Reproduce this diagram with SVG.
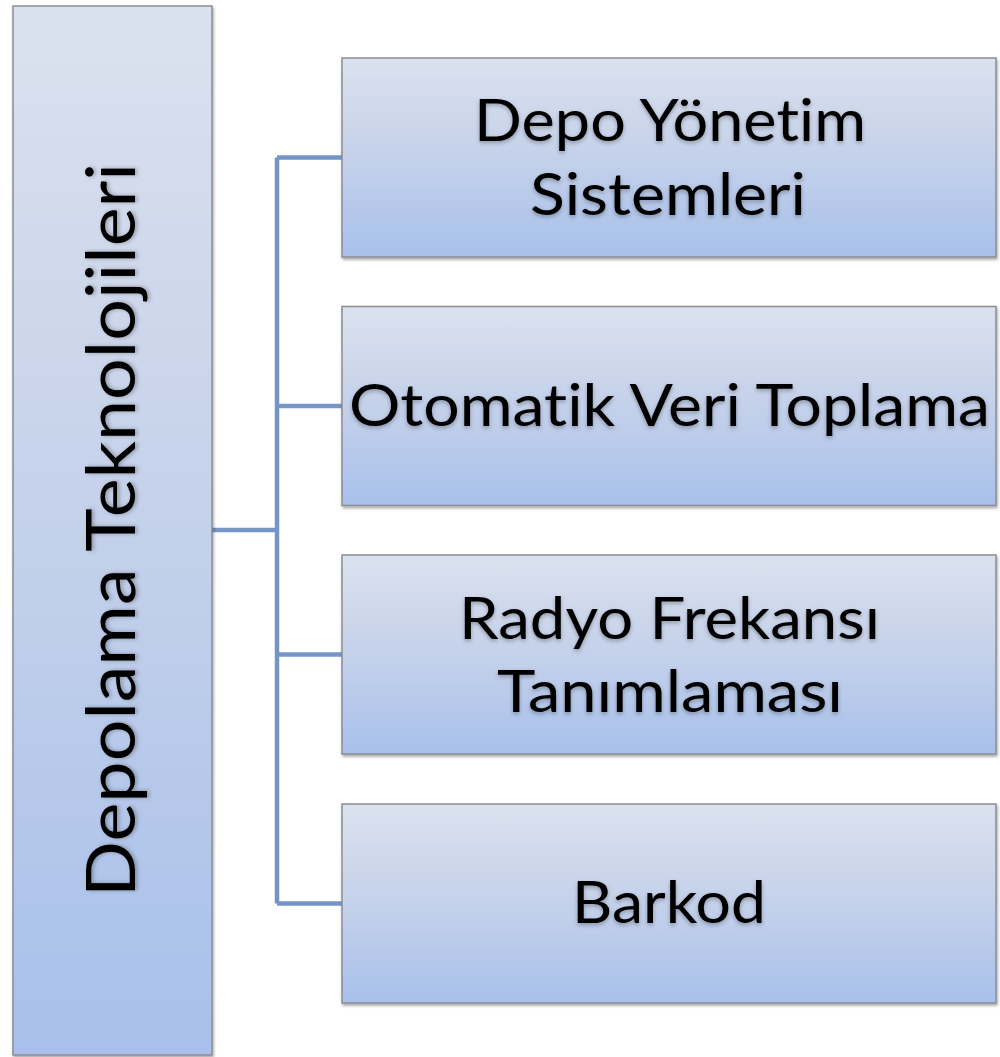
<svg xmlns="http://www.w3.org/2000/svg" width="1000" height="1057" viewBox="0 0 1000 1057">
  <defs>
    <linearGradient id="boxFill" x1="0" y1="0" x2="0" y2="1">
      <stop offset="0" stop-color="#dbe1ee"/>
      <stop offset="0.5" stop-color="#c4d1ea"/>
      <stop offset="1" stop-color="#a8c0eb"/>
    </linearGradient>
    <filter id="boxShadow" x="-5%" y="-5%" width="115%" height="115%">
      <feDropShadow dx="1" dy="2" stdDeviation="1.5" flood-color="#000" flood-opacity="0.35"/>
    </filter>
    <filter id="textShadow" x="-5%" y="-20%" width="110%" height="150%">
      <feDropShadow dx="0" dy="2" stdDeviation="2" flood-color="#000" flood-opacity="0.3"/>
    </filter>
  </defs>
  <style>
    .box { fill: url(#boxFill); stroke: #8a8d94; stroke-width: 1.5; filter: url(#boxShadow); }
    .label { font-family: Lato, "Open Sans", sans-serif; font-size: 59px; fill: #000; text-anchor: middle; font-variant-ligatures: none; filter: url(#textShadow); }
    .root-label { font-size: 68px; }
    .link { fill: none; stroke: #7595c9; stroke-width: 4.5; }
  </style>

  <rect width="1000" height="1057" fill="#ffffff"/>

  <!-- connectors: trunk from the root, spine, and branches to each child -->
  <g id="connectors">
    <path class="link" d="M212 530 H277"/>
    <path class="link" d="M277 157.5 V903.5"/>
    <path class="link" d="M277 157.5 H342"/>
    <path class="link" d="M277 406 H342"/>
    <path class="link" d="M277 654.5 H342"/>
    <path class="link" d="M277 903.5 H342"/>
  </g>

  <g id="root">
    <rect class="box" x="13" y="6" width="199" height="1049"/>
    <text class="label root-label" transform="translate(135 530) rotate(-90)" textLength="734" lengthAdjust="spacingAndGlyphs">Depolama Teknolojileri</text>
  </g>

  <g id="depo-yonetim">
    <rect class="box" x="342" y="58" width="654" height="199"/>
    <text class="label" x="670" y="141" textLength="392" lengthAdjust="spacingAndGlyphs">Depo Yönetim</text>
    <text class="label" x="668" y="215" textLength="276" lengthAdjust="spacingAndGlyphs">Sistemleri</text>
  </g>

  <g id="otomatik-veri">
    <rect class="box" x="342" y="306.5" width="654" height="199"/>
    <text class="label" x="669.5" y="426" textLength="641" lengthAdjust="spacingAndGlyphs">Otomatik Veri Toplama</text>
  </g>

  <g id="radyo-frekansi">
    <rect class="box" x="342" y="555" width="654" height="199"/>
    <text class="label" x="669.5" y="639" textLength="421" lengthAdjust="spacingAndGlyphs">Radyo Frekansı</text>
    <text class="label" x="670" y="712" textLength="346" lengthAdjust="spacingAndGlyphs">Tanımlaması</text>
  </g>

  <g id="barkod">
    <rect class="box" x="342" y="804" width="654" height="199"/>
    <text class="label" x="669" y="923" textLength="194" lengthAdjust="spacingAndGlyphs">Barkod</text>
  </g>
</svg>
